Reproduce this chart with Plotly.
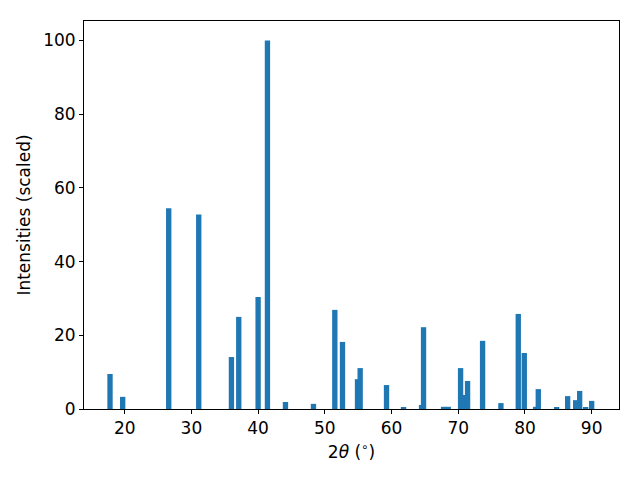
import plotly.graph_objects as go

two_theta = [17.8, 19.7, 26.6, 31.1, 36.0, 37.1, 40.0, 41.4, 44.1, 48.3,
             51.5, 52.65, 54.9, 55.3, 59.25, 61.8, 64.5, 64.8, 67.8, 68.5,
             70.35, 70.9, 71.4, 73.65, 76.4, 79.0, 79.9, 81.6, 82.0, 84.75,
             86.4, 87.6, 88.2, 89.1, 90.0]
intensity = [9.5, 3.3, 54.5, 52.8, 14.1, 25.0, 30.4, 100.0, 1.9, 1.4,
             26.9, 18.2, 8.1, 11.1, 6.5, 0.3, 1.1, 22.2, 0.6, 0.6,
             11.1, 3.8, 7.6, 18.5, 1.6, 25.8, 15.2, 0.6, 5.4, 0.3,
             3.5, 2.4, 4.9, 0.3, 2.2]

x_ticks = [20, 30, 40, 50, 60, 70, 80, 90]
y_ticks = [0, 20, 40, 60, 80, 100]

fig = go.Figure(go.Bar(x=two_theta, y=intensity, width=0.8,
                       marker=dict(color="#1f77b4", line=dict(width=0))))

axis_common = dict(showline=True, linecolor="black", linewidth=1, mirror=True,
                   ticks="outside", ticklen=4, tickwidth=1, tickcolor="black",
                   showgrid=False, zeroline=False, automargin=False,
                   tickfont=dict(family="DejaVu Sans", size=17, color="black"))

# page body has an 8px default margin, so the figure is sized to compensate
fig.update_layout(
    width=632, height=472,
    margin=dict(l=76, r=21, t=13, b=71),
    plot_bgcolor="white", paper_bgcolor="white",
    barmode="overlay", showlegend=False,
    font=dict(family="DejaVu Sans", size=17, color="black"),
    xaxis=dict(range=[13.9, 94.1], tickvals=x_ticks,
               title=dict(text="2<i>θ</i> (<sup>∘</sup>)", standoff=8,
                          font=dict(size=17)), **axis_common),
    yaxis=dict(range=[0, 105.3], tickvals=y_ticks,
               title=dict(text="Intensities (scaled)", standoff=8,
                          font=dict(size=17)), **axis_common),
)

fig.write_html("out.html")
